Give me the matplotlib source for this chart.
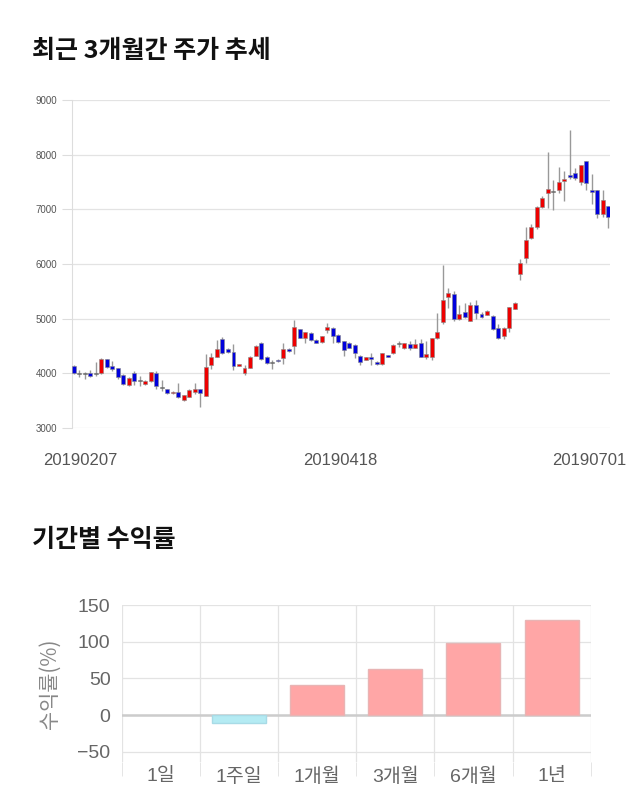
import numpy as np
import matplotlib.pyplot as plt
from matplotlib.transforms import ScaledTranslation

plt.rcParams['font.family'] = ['Liberation Sans', 'Noto Sans CJK KR', 'DejaVu Sans']

# 일봉 데이터 (시가, 고가, 저가, 종가)
opens = [4130, 3990, 3990, 4010, 3980, 4000, 4260, 4130, 4090, 3970,
         3790, 4010, 3860, 3810, 3860, 4000, 3740, 3710, 3640, 3660,
         3510, 3570, 3650, 3710, 3590, 4150, 4300, 4630, 4450, 4390,
         4140, 4000, 4100, 4320, 4560, 4300, 4190, 4240, 4280, 4450,
         4500, 4810, 4640, 4740, 4610, 4570, 4790, 4830, 4700, 4590,
         4560, 4520, 4320, 4250, 4300, 4210, 4170, 4330, 4370, 4540,
         4470, 4540, 4470, 4550, 4300, 4300, 4640, 4940, 5400, 5450,
         4990, 5120, 4960, 5250, 5090, 5070, 5050, 4830, 4680, 4830,
         5180, 5820, 6110, 6480, 6680, 7040, 7300, 7320, 7350, 7520,
         7630, 7660, 7500, 7880, 7350, 7350, 6910, 7060]
highs = [4150, 4060, 4030, 4060, 4200, 4280, 4270, 4220, 4100, 3980,
         3930, 4050, 3950, 3870, 4030, 4050, 3880, 3720, 3670, 3830,
         3610, 3710, 3830, 3720, 4350, 4370, 4610, 4660, 4460, 4530,
         4180, 4150, 4310, 4510, 4570, 4310, 4240, 4260, 4550, 4460,
         4980, 4820, 4760, 4750, 4620, 4690, 4920, 4840, 4720, 4600,
         4570, 4530, 4330, 4300, 4380, 4220, 4380, 4340, 4530, 4600,
         4560, 4600, 4630, 4630, 4600, 4650, 5100, 5980, 5560, 5500,
         5250, 5280, 5300, 5350, 5120, 5150, 5060, 4900, 4840, 5220,
         5300, 6100, 6680, 6740, 7070, 7250, 8050, 7530, 7770, 7700,
         8450, 7760, 7810, 7890, 7640, 7360, 7360, 7070]
lows = [3990, 3930, 3900, 3940, 3950, 3990, 4100, 4050, 3900, 3790,
        3770, 3790, 3770, 3790, 3850, 3720, 3680, 3620, 3630, 3550,
        3490, 3560, 3620, 3390, 3580, 4080, 4290, 4350, 4380, 4060,
        4130, 3970, 4090, 4310, 4250, 4180, 4080, 4200, 4170, 4390,
        4360, 4640, 4560, 4600, 4550, 4560, 4740, 4560, 4560, 4320,
        4460, 4280, 4150, 4240, 4160, 4160, 4160, 4290, 4360, 4480,
        4440, 4420, 4460, 4290, 4260, 4250, 4630, 4900, 5200, 4950,
        4970, 5010, 4950, 5000, 5010, 5060, 4800, 4620, 4630, 4750,
        5170, 5700, 6010, 6460, 6640, 7020, 7020, 6990, 7300, 7150,
        7560, 7530, 7450, 7350, 7100, 6840, 6860, 6650]
closes = [4000, 3990, 3990, 3960, 3980, 4270, 4120, 4080, 3930, 3800,
          3920, 3860, 3860, 3860, 4020, 3770, 3740, 3640, 3660, 3570,
          3600, 3700, 3710, 3640, 4120, 4300, 4450, 4370, 4390, 4140,
          4170, 4100, 4300, 4500, 4260, 4190, 4190, 4220, 4450, 4400,
          4850, 4650, 4750, 4610, 4560, 4680, 4850, 4680, 4570, 4430,
          4470, 4370, 4210, 4290, 4270, 4170, 4370, 4300, 4520, 4540,
          4550, 4470, 4540, 4300, 4350, 4640, 4760, 5340, 5470, 4990,
          5090, 5030, 5250, 5100, 5030, 5140, 4810, 4650, 4830, 5210,
          5290, 6020, 6440, 6680, 7040, 7210, 7370, 7320, 7500, 7550,
          7590, 7570, 7810, 7480, 7320, 6910, 7170, 6860]
date_ticks = [0, 49, 97]
date_labels = ['20190207', '20190418', '20190701']

# 기간별 수익률
periods = ['1일', '1주일', '1개월', '3개월', '6개월', '1년']
returns = [0, -11, 41, 63, 98, 129]

fig = plt.figure(figsize=(6.4, 8.1), dpi=100)

fig.text(0.05, 0.937, '최근 3개월간 주가 추세', fontsize=18, fontweight='bold',
         family=['Noto Sans CJK KR'], va='center', color='#111111')
fig.text(0.05, 0.333, '기간별 수익률', fontsize=18, fontweight='bold',
         family=['Noto Sans CJK KR'], va='center', color='#111111')

# 캔들 차트
ax = fig.add_axes([0.1125, 0.4716, 0.8405, 0.4049])
x = np.arange(len(opens))
o = np.array(opens)
c = np.array(closes)
colors = ['#ee0000' if cc > oo else ('#0000dd' if cc < oo else '#222222')
          for oo, cc in zip(o, c)]
ax.vlines(x, lows, highs, color='#999999', linewidth=1, zorder=2)
heights = np.maximum(np.abs(c - o), 18)
ax.bar(x, heights, bottom=np.minimum(o, c), width=0.72, color=colors,
       edgecolor='#888888', linewidth=0.4, zorder=3)
ax.set_xlim(-0.3, 97.3)
ax.set_ylim(3000, 9000)
ax.set_yticks([3000, 4000, 5000, 6000, 7000, 8000, 9000])
ax.tick_params(axis='y', labelsize=7, colors='#666666', length=7, width=0.8)
for t in ax.get_yticklabels():
    t.set_color('#555555')
ax.yaxis.set_tick_params(color='#dddddd')
ax.set_xticks(date_ticks)
ax.set_xticklabels(date_labels, fontsize=12, color='#555555')
ax.tick_params(axis='x', length=0, pad=18)
# 첫/마지막 날짜 라벨은 캔버스 안쪽으로 살짝 이동
shifts = [0.07, -0.03, -0.19]
for lab, dx in zip(ax.get_xticklabels(), shifts):
    lab.set_transform(lab.get_transform() + ScaledTranslation(dx, 0, fig.dpi_scale_trans))
ax.grid(axis='y', color='#e3e3e3', linewidth=0.9)
for s in ['top', 'right', 'bottom']:
    ax.spines[s].set_visible(False)
ax.spines['left'].set_color('#dddddd')
ax.set_axisbelow(True)

# 수익률 막대
ax2 = fig.add_axes([0.19, 0.059, 0.733, 0.194])
xs = np.arange(len(periods))
bcolors = ['#ffa6a6' if r >= 0 else '#b4ebf3' for r in returns]
ecolors = ['#e8b4b4' if r >= 0 else '#a8dbe6' for r in returns]
lws = [1 if r != 0 else 0 for r in returns]
ax2.bar(xs, returns, width=0.69, color=bcolors, edgecolor=ecolors,
        linewidth=lws, zorder=3)
ax2.set_xlim(-0.5, len(periods) - 0.5)
ax2.set_ylim(-64, 150)
ax2.set_yticks([-50, 0, 50, 100, 150])
ax2.set_xticks(xs)
ax2.set_xticklabels(periods)
ax2.set_xticks(np.arange(-0.5, len(periods)), minor=True)
ax2.tick_params(axis='both', which='major', labelsize=14, colors='#666666', length=0)
ax2.tick_params(axis='x', which='minor', length=10, color='#e0e0e0')
ax2.tick_params(axis='y', pad=8)
ax2.tick_params(axis='x', pad=4)
ax2.grid(axis='y', color='#e3e3e3', linewidth=0.9)
ax2.grid(axis='x', which='minor', color='#e3e3e3', linewidth=0.9)
ax2.axhline(0, color='#cccccc', linewidth=1.8, zorder=2)
for s in ['top', 'right', 'bottom', 'left']:
    ax2.spines[s].set_visible(False)
ax2.set_axisbelow(True)
ax2.set_ylabel('수익률(%)', fontsize=15, color='#888888', labelpad=12,
               family=['Noto Sans CJK KR', 'Liberation Sans'])

fig.savefig('out.png', dpi=100)
